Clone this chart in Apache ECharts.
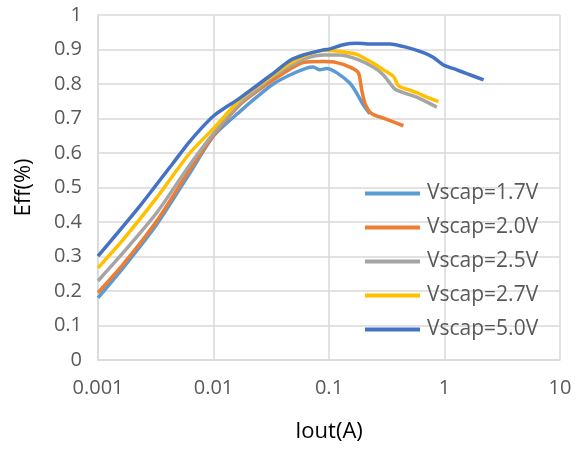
<!DOCTYPE html>
<html>
<head>
<meta charset="UTF-8">
<title>Eff vs Iout</title>
<script src="https://cdn.jsdelivr.net/npm/echarts@6/dist/echarts.min.js"></script>
<style>
  body { margin: 0; background: #fff; }
  #main { width: 583px; height: 449px; }
</style>
</head>
<body>
<div id="main"></div>
<script>
// series names / colours
var names = ['Vscap=1.7V', 'Vscap=2.0V', 'Vscap=2.5V', 'Vscap=2.7V', 'Vscap=5.0V'];
var colors = ['#5B9BD5', '#ED7D31', '#A5A5A5', '#FFC000', '#4472C4'];
var xTicks = ['0.001', '0.01', '0.1', '1', '10'];

// Iout (A) and Eff per curve
var x17 = [0.001, 0.00165, 0.00321, 0.00624, 0.01006, 0.0169, 0.0236, 0.0329, 0.0459, 0.064, 0.0731, 0.0833, 0.0952, 0.1164, 0.152, 0.174, 0.198, 0.226];
var y17 = [0.180, 0.267, 0.392, 0.542, 0.650, 0.720, 0.762, 0.800, 0.826, 0.846, 0.849, 0.841, 0.845, 0.833, 0.802, 0.773, 0.740, 0.714];

var x20 = [0.001, 0.00165, 0.00321, 0.00624, 0.01006, 0.0169, 0.0236, 0.0329, 0.0459, 0.0599, 0.0893, 0.1164, 0.152, 0.1795, 0.192, 0.205, 0.234, 0.296, 0.441];
var y20 = [0.195, 0.277, 0.402, 0.552, 0.653, 0.740, 0.778, 0.812, 0.843, 0.862, 0.865, 0.862, 0.849, 0.833, 0.783, 0.744, 0.714, 0.701, 0.679];

var x25 = [0.001, 0.00165, 0.00321, 0.00624, 0.01006, 0.0169, 0.0236, 0.0329, 0.0459, 0.064, 0.0893, 0.1245, 0.174, 0.242, 0.296, 0.373, 0.441, 0.575, 0.858];
var y25 = [0.229, 0.311, 0.426, 0.566, 0.658, 0.744, 0.783, 0.822, 0.852, 0.875, 0.884, 0.884, 0.872, 0.849, 0.826, 0.785, 0.775, 0.762, 0.733];

var x27 = [0.001, 0.00165, 0.00321, 0.00624, 0.01006, 0.0169, 0.0236, 0.0329, 0.0459, 0.064, 0.0893, 0.1007, 0.1245, 0.174, 0.242, 0.296, 0.361, 0.399, 0.471, 0.575, 0.703, 0.887];
var y27 = [0.267, 0.349, 0.470, 0.600, 0.672, 0.754, 0.791, 0.826, 0.860, 0.884, 0.897, 0.897, 0.894, 0.886, 0.860, 0.841, 0.822, 0.795, 0.785, 0.775, 0.762, 0.749];

var x50 = [0.001, 0.0023, 0.00447, 0.00624, 0.01006, 0.0169, 0.0236, 0.0329, 0.0459, 0.0599, 0.0893, 0.1007, 0.133, 0.174, 0.242, 0.338, 0.471, 0.657, 0.803, 0.98, 1.28, 1.56, 2.18];
var y50 = [0.301, 0.446, 0.571, 0.634, 0.708, 0.759, 0.795, 0.831, 0.868, 0.884, 0.899, 0.901, 0.914, 0.918, 0.916, 0.916, 0.906, 0.891, 0.877, 0.855, 0.841, 0.830, 0.812];

var xs = [x17, x20, x25, x27, x50];
var ys = [y17, y20, y25, y27, y50];

function pairs(a, b) {
    var out = [];
    for (var i = 0; i < a.length; i++) {
        out.push([a[i], b[i]]);
    }
    return out;
}

var series = [];
for (var i = 0; i < names.length; i++) {
    series.push({
        name: names[i],
        type: 'line',
        data: pairs(xs[i], ys[i]),
        showSymbol: false,
        symbol: 'none',
        smooth: 0.25,
        lineStyle: { width: 3.5, color: colors[i] },
        itemStyle: { color: colors[i] }
    });
}

var font = 'Open Sans';
var txt = '#595959';
var myChart = echarts.init(document.getElementById('main'));
myChart.setOption({
    animation: false,
    grid: { left: 98, right: 23, top: 15, bottom: 89 },
    legend: {
        orient: 'vertical',
        left: 360,
        top: 178,
        itemWidth: 55,
        itemHeight: 4,
        itemGap: 13,
        icon: 'rect',
        textStyle: { fontFamily: font, fontSize: 21, color: txt, padding: [0, 0, 0, 2] },
        data: names
    },
    xAxis: {
        type: 'log',
        logBase: 10,
        min: 0.001,
        max: 10,
        name: 'Iout(A)',
        nameLocation: 'middle',
        nameGap: 61,
        nameTextStyle: { fontFamily: font, fontSize: 22, color: '#000' },
        axisLine: { lineStyle: { color: '#D9D9D9', width: 1.5 } },
        axisTick: { show: false },
        minorTick: { show: false },
        splitLine: { show: true, lineStyle: { color: '#D9D9D9', width: 1.5 } },
        axisLabel: {
            margin: 18,
            fontFamily: font,
            fontSize: 20,
            color: txt,
            formatter: function (v) {
                return xTicks[Math.round(Math.log10(v)) + 3];
            }
        }
    },
    yAxis: {
        type: 'value',
        min: 0,
        max: 1,
        interval: 0.1,
        name: 'Eff(%)',
        nameLocation: 'middle',
        nameGap: 63,
        nameTextStyle: { fontFamily: font, fontSize: 22, color: '#000' },
        axisLine: { show: true, lineStyle: { color: '#D9D9D9', width: 1.5 } },
        axisTick: { show: false },
        splitLine: { show: true, lineStyle: { color: '#D9D9D9', width: 1.5 } },
        axisLabel: {
            margin: 16,
            fontFamily: font,
            fontSize: 20,
            color: txt,
            formatter: function (v) {
                return String(Math.round(v * 10) / 10);
            }
        }
    },
    series: series
});
</script>
</body>
</html>
